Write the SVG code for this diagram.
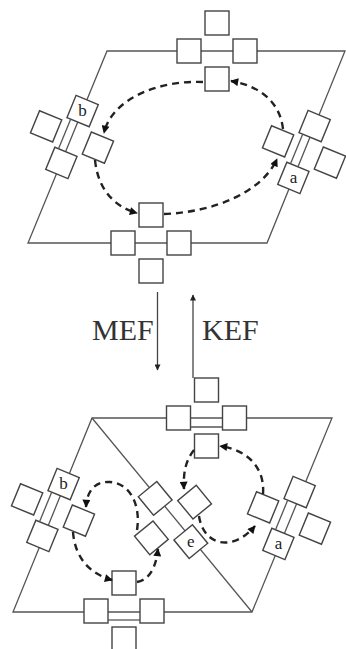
<svg xmlns="http://www.w3.org/2000/svg" xmlns:xlink="http://www.w3.org/1999/xlink" width="346" height="649" viewBox="0 0 346 649">
<style>
.edge{stroke:#555;stroke-width:1.3;fill:none}
.sq{fill:#fff;stroke:#444;stroke-width:1.4}
.loop{fill:none;stroke:#222;stroke-width:2.4;stroke-dasharray:7 5;marker-end:url(#ah)}
.flow{fill:none;stroke:#444;stroke-width:1.3;marker-end:url(#sa)}
.lbl{font-family:"Liberation Serif",serif;font-size:17px;fill:#222;text-anchor:middle}
.big{font-family:"Liberation Serif",serif;font-size:30px;fill:#333}
</style>
<defs>
<marker id="ah" viewBox="0 0 10 10" refX="9" refY="5" markerWidth="10" markerHeight="8" markerUnits="userSpaceOnUse" orient="auto"><path d="M0,0 L10,5 L0,10 z" fill="#111"/></marker>
<marker id="sa" viewBox="0 0 10 10" refX="9" refY="5" markerWidth="8" markerHeight="6" markerUnits="userSpaceOnUse" orient="auto"><path d="M0,0 L10,5 L0,10 z" fill="#222"/></marker>
<g id="cross">
<rect class="sq" x="-40" y="-12" width="24" height="24"/>
<rect class="sq" x="16" y="-12" width="24" height="24"/>
<rect class="sq" x="-12" y="-40" width="24" height="24"/>
<rect class="sq" x="-12" y="16" width="24" height="24"/>
</g>
</defs>

<g id="frames">
<polygon class="edge" points="107,51 345,51 267,243 28,243"/>
<polygon class="edge" points="92,418 332,418 252,612 13,612"/>
<line class="edge" x1="92" y1="418" x2="252" y2="612"/>
</g>

<g id="cross-top-1"><use xlink:href="#cross" transform="translate(217,51)"/></g>
<g id="cross-bottom-1"><use xlink:href="#cross" transform="translate(151,243)"/></g>
<g id="cross-b-1"><use xlink:href="#cross" transform="translate(72,137) rotate(22.3)"/>
<line class="edge" transform="translate(72,137) rotate(22.3)" x1="-8" y1="-16" x2="-8" y2="16"/>
<text class="lbl" x="82.6" y="116">b</text></g>
<g id="cross-a-1"><use xlink:href="#cross" transform="translate(304,152) rotate(22.3)"/>
<line class="edge" transform="translate(304,152) rotate(22.3)" x1="-8" y1="-16" x2="-8" y2="16"/>
<text class="lbl" x="293.4" y="183">a</text></g>

<g id="cross-top-2"><use xlink:href="#cross" transform="translate(206.5,418)"/>
<line class="edge" x1="190.5" y1="427" x2="222.5" y2="427"/></g>
<g id="cross-bottom-2"><use xlink:href="#cross" transform="translate(124,611)"/>
<line class="edge" x1="108" y1="620" x2="140" y2="620"/></g>
<g id="cross-b-2"><use xlink:href="#cross" transform="translate(53,510) rotate(22.3)"/>
<line class="edge" transform="translate(53,510) rotate(22.3)" x1="-8" y1="-16" x2="-8" y2="16"/>
<text class="lbl" x="63.6" y="489">b</text></g>
<g id="cross-a-2"><use xlink:href="#cross" transform="translate(289,518) rotate(22.3)"/>
<line class="edge" transform="translate(289,518) rotate(22.3)" x1="-8" y1="-16" x2="-8" y2="16"/>
<text class="lbl" x="278.4" y="549">a</text></g>
<g id="cross-e"><use xlink:href="#cross" transform="translate(173,520) rotate(50.5)"/>
<text class="lbl" x="190.8" y="546.5">e</text></g>

<g id="connectors">
<path class="loop" d="M203,82 C160,80 112,98 104,133"/>
<path class="loop" d="M95,160 C98,190 115,207 137,213"/>
<path class="loop" d="M164,214 C215,212 262,192 277,159"/>
<path class="loop" d="M283,129 C280,102 260,86 231,81"/>

<path class="loop" d="M194,450 C186,460 183,472 184,489"/>
<path class="loop" d="M199,516 C203,545 232,553 255,526"/>
<path class="loop" d="M263,494 C265,468 248,450 220,446"/>

<path class="loop" d="M137,530 C141,505 130,483 110,482 C96,481 87,490 86,507"/>
<path class="loop" d="M73,532 C75,558 90,574 112,580"/>
<path class="loop" d="M137,582 C149,580 156,568 158,549"/>

<line class="flow" x1="157.5" y1="292" x2="157.5" y2="370"/>
<line class="flow" x1="193" y1="378" x2="193" y2="295"/>
</g>

<text class="big" x="92" y="340">MEF</text>
<text class="big" x="202" y="340">KEF</text>
</svg>
